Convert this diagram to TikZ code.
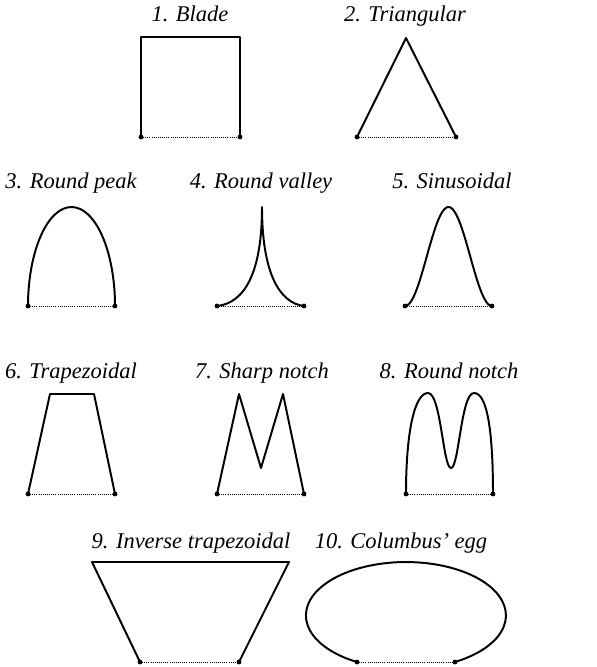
\documentclass[tikz,border=0pt]{standalone}
\usepackage{fontspec}
\setmainfont{Liberation Serif}
\begin{document}
\begin{tikzpicture}[x=0.025cm,y=-0.025cm,
  lbl/.style={font=\fontsize{16}{19}\selectfont\itshape,anchor=base,inner sep=0pt},
  prof/.style={line width=1.4pt,line join=round},
  basel/.style={densely dotted,line width=0.5pt},
  pt/.style={circle,fill,inner sep=0pt,minimum size=3.4pt}]
\useasboundingbox (0,0) rectangle (597,667);
% labels
\node[lbl] (t1) at (190,21) {1. Blade};
\node[lbl] (t2) at (405,21) {2. Triangular};
\node[lbl] (t3) at (71,188) {3. Round peak};
\node[lbl] (t4) at (261,188) {4. Round valley};
\node[lbl] (t5) at (452,188) {5. Sinusoidal};
\node[lbl] (t6) at (71,378) {6. Trapezoidal};
\node[lbl] (t7) at (262,378) {7. Sharp notch};
\node[lbl] (t8) at (449,378) {8. Round notch};
\node[lbl] (t9) at (191,548) {9. Inverse trapezoidal};
\node[lbl] (t10) at (401,548) {10. Columbus' egg};
% base points
\coordinate (a1) at (141,137); \coordinate (b1) at (240,137);
\coordinate (a2) at (357,137); \coordinate (b2) at (456,137);
\coordinate (a3) at (28,306);  \coordinate (b3) at (115,306);
\coordinate (a4) at (217,306); \coordinate (b4) at (304,306);
\coordinate (a5) at (405,306); \coordinate (b5) at (492,306);
\coordinate (a6) at (28,494);  \coordinate (b6) at (115,494);
\coordinate (a7) at (217,494); \coordinate (b7) at (304,494);
\coordinate (a8) at (406,494); \coordinate (b8) at (493,494);
\coordinate (a9) at (140,662); \coordinate (b9) at (239,662);
\coordinate (a10) at (357,662); \coordinate (b10) at (455,662);
% profiles
\draw[prof] (a1) -- (141,37) -- (240,37) -- (b1);
\draw[prof] (a2) -- (406,38) -- (b2);
\draw[prof] (a3) arc[start angle=180,end angle=360,x radius=43.5,y radius=99];
\draw[prof] (a4) .. controls (245,303) and (262,272) .. (262,207)
  .. controls (262,272) and (279,303) .. (b4);
\draw[prof] plot[domain=0:360,samples=61] ({405+0.24167*\x},{306-49.5*(1-cos(\x))});
\draw[prof] (a6) -- (50,394) -- (94,394) -- (b6);
\draw[prof] (a7) -- (239,394) -- (261,468) -- (283,394) -- (b7);
\draw[prof] (a8) .. controls (406,430) and (415,393) .. (428,393)
  .. controls (441,393) and (443,468) .. (451,468)
  .. controls (459,468) and (461,393) .. (474,393)
  .. controls (487,393) and (493,430) .. (b8);
\draw[prof] (a9) -- (92,562) -- (289,562) -- (b9);
\draw[prof] (a10) arc[start angle=119.3,end angle=420.7,x radius=100,y radius=53.4];
% base lines and end points
\foreach \i in {1,...,10}{
  \draw[basel] (a\i) -- (b\i);
  \node[pt] (pa\i) at (a\i) {};
  \node[pt] (pb\i) at (b\i) {};
}
\end{tikzpicture}
\end{document}
